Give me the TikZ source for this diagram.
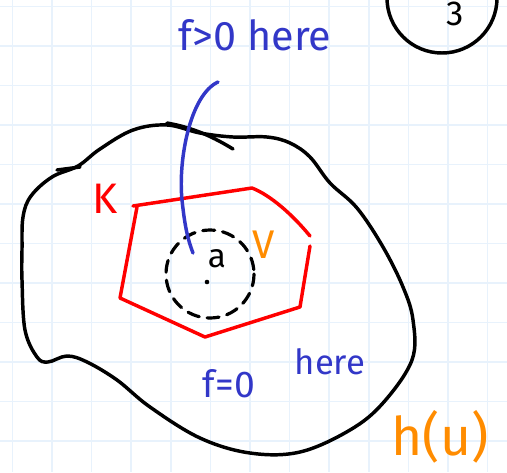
\documentclass[tikz,border=0pt]{standalone}
\usepackage{fontspec}
\setmainfont{Fira Sans}
\definecolor{penblue}{RGB}{50,55,200}
\definecolor{penred}{RGB}{255,0,0}
\definecolor{penorange}{RGB}{255,140,0}
\definecolor{gridblue}{RGB}{232,242,252}
\tikzset{
  pen/.style={line width=2.6pt, line cap=round, line join=round},
  lbl/.style={inner sep=0pt, anchor=center},
}
\begin{document}
\begin{tikzpicture}[x=0.75pt,y=-0.75pt]
\fill[white] (0,0) rectangle (507,472);
\useasboundingbox (0,0) rectangle (507,472);
% grid
\foreach \k in {0,...,12} {
  \draw[gridblue, line width=1.2pt] ({12.3+39.6*\k},0) -- ({12.3+39.6*\k},472);
  \draw[gridblue, line width=1.2pt] (0,{6.5+39.5*\k}) -- (507,{6.5+39.5*\k});
}
% page number circle
\draw[pen, black] (442,-2) circle (55);
\node[lbl, font=\fontsize{26}{28}\selectfont] (num) at (455,14) {3};
% blob h(U)
\draw[pen, black] plot[smooth cycle, tension=0.6] coordinates {
  (23,217) (31,196) (52,177) (78,166) (100,149) (133,130) (167,125)
  (200,133) (233,137) (267,137) (290,143) (310,157) (330,183) (357,208)
  (383,247) (403,287) (413,320) (412,360) (383,403) (350,430) (300,452)
  (250,453) (200,438) (150,407) (117,380) (87,362) (67,356) (48,362)
  (37,357) (25,330) (22,280) (22,250)};
\coordinate (tickA1) at (57,170);
\coordinate (tickA2) at (80,167);
\draw[pen, black] (tickA1) -- (tickA2);
\coordinate (tickB1) at (167,123);
\coordinate (tickB2) at (233,149);
\draw[pen, black] (tickB1) .. controls (195,128) and (215,138) .. (tickB2);
% K hexagon
\coordinate (k1) at (133,206);
\coordinate (k2) at (252,188);
\coordinate (k3) at (310,236);
\coordinate (k4) at (310,246);
\coordinate (k5) at (300,307);
\coordinate (k6) at (205,337);
\coordinate (k7) at (120,298);
\coordinate (k8) at (137,207);
\draw[pen, penred] (k1) -- (k2) .. controls (270,195) and (292,214) .. (k3);
\draw[pen, penred] (k4) -- (k5) -- (k6) -- (k7) -- (k8);
\node[lbl, penred, font=\fontsize{32}{34}\selectfont] (K) at (105,199) {K};
% dashed circle V
\draw[line width=2.4pt, black, dash pattern=on 9pt off 6pt, line cap=round] (210,274) circle (44);
\node[lbl, black, font=\fontsize{25}{27}\selectfont] (a) at (217,259) {a};
\fill[black] (207,282) circle (2.3);
\node[lbl, penorange, font=\fontsize{30}{32}\selectfont] (V) at (264,245) {V};
% blue labels and curve
\node[lbl, penblue, font=\fontsize{31}{33}\selectfont] (fpos) at (255,35) {f>0 here};
\coordinate (cTop) at (218,82);
\coordinate (cEnd) at (193,253);
\draw[pen, penblue] (cTop) .. controls (190,95) and (178,160) .. (182,200) .. controls (185,228) and (188,240) .. (cEnd);
\node[lbl, penblue, font=\fontsize{28}{30}\selectfont] (fzero) at (229,384) {f=0};
\node[lbl, penblue, font=\fontsize{26}{28}\selectfont] (here) at (330,362) {here};
\node[lbl, penorange, font=\fontsize{40}{42}\selectfont] (hU) at (440,437) {h(u)};
\end{tikzpicture}
\end{document}
